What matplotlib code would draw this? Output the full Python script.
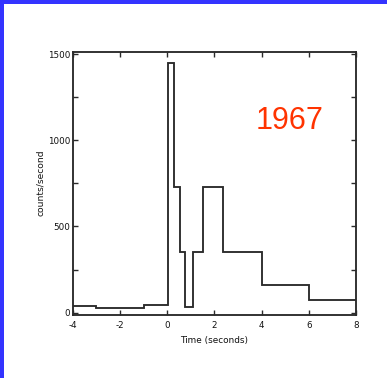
import matplotlib
matplotlib.use("Agg")
import matplotlib.pyplot as plt
from matplotlib.patches import Rectangle

# Data
bin_edges = [-4, -3, -1, 0.05, 0.3, 0.53, 0.77, 1.08, 1.52, 2.38, 4, 6, 8]
counts = [40, 25, 42, 1450, 730, 350, 35, 350, 730, 350, 160, 73]
x_ticks = [-4, -2, 0, 2, 4, 6, 8]
y_ticks = [0, 250, 500, 750, 1000, 1250, 1500]
y_tick_labels = ["0", "", "500", "", "1000", "", "1500"]
year_label = "1967"

W, H = 387, 378
fig = plt.figure(figsize=(W / 100, H / 100), dpi=100)
fig.patch.set_facecolor("white")

# Blue border on left and top
fig.patches.append(Rectangle((0, 0), 4 / W, 1, transform=fig.transFigure,
                             facecolor="#3333FF", edgecolor="none", zorder=0))
fig.patches.append(Rectangle((0, 1 - 4 / H), 1, 4 / H, transform=fig.transFigure,
                             facecolor="#3333FF", edgecolor="none", zorder=0))

left, right, top, bottom = 72.7, 356.0, 51.7, 315.0
ax = fig.add_axes([left / W, 1 - bottom / H, (right - left) / W, (bottom - top) / H])

line_col = "#2a2a2a"
ax.stairs(counts, bin_edges, baseline=None, color=line_col, linewidth=1.35)

ax.set_xlim(-4, 8)
ax.set_ylim(-14, 1515)
ax.set_xticks(x_ticks)
ax.set_xticklabels([str(t) for t in x_ticks])
ax.set_yticks(y_ticks)
ax.set_yticklabels(y_tick_labels)

for s in ax.spines.values():
    s.set_color(line_col)
    s.set_linewidth(1.35)

ax.tick_params(axis="both", direction="in", length=3.5, width=1.0, color=line_col,
               top=True, right=True, labelsize=6.3, labelcolor="#111111")
ax.tick_params(axis="x", pad=4)
ax.tick_params(axis="y", pad=2)

fig.text(41 / W, 1 - 183 / H, "counts/second", rotation=90, ha="center", va="center",
         fontsize=6.6, color="#111111")
fig.text(214 / W, 1 - 340 / H, "Time (seconds)", ha="center", va="center",
         fontsize=6.4, color="#111111")

fig.text(289.5 / W, 1 - 129.3 / H, year_label, ha="center", va="baseline",
         fontsize=22, color="#FF3300", family="Liberation Sans")

fig.savefig("out.png", dpi=100, facecolor="white")
